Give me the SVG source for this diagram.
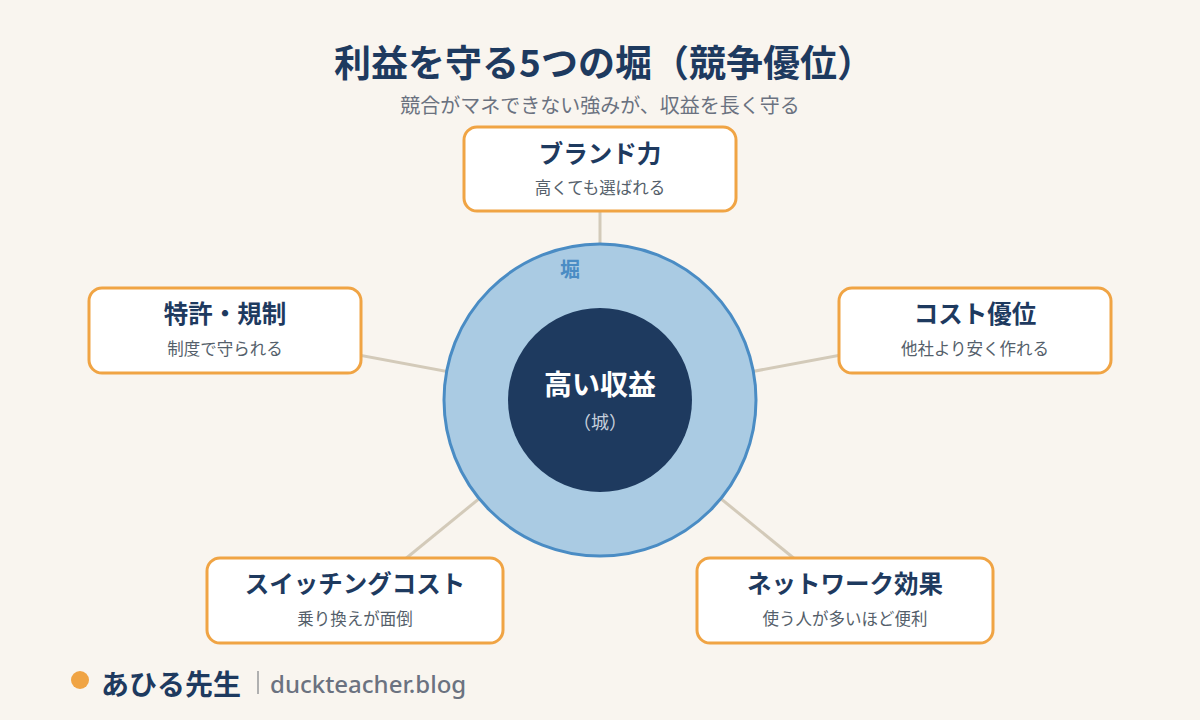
<svg xmlns="http://www.w3.org/2000/svg" width="1200" height="720" viewBox="0 0 1200 720">
<style>
.bg{fill:#f9f5ef}
.box{fill:#ffffff;stroke:#f0a444;stroke-width:3}
.t{font-family:"Noto Sans CJK JP","Noto Sans",sans-serif;text-anchor:middle}
.bt{font-size:24.5px;font-weight:700;fill:#1e3a5f}
.bs{font-size:16.5px;fill:#555f6b}
.conn{stroke:#d3cab9;stroke-width:3;fill:none}
</style>
<rect class="bg" x="0" y="0" width="1200" height="720"/>
<text class="t" x="604" y="77" font-size="37" font-weight="700" fill="#1e3a5f">利益を守る5つの堀（競争優位）</text>
<text class="t" x="600" y="113" font-size="20" fill="#6b7280">競合がマネできない強みが、収益を長く守る</text>
<g id="connectors">
<line class="conn" x1="600" y1="400" x2="600" y2="169"/>
<line class="conn" x1="600" y1="400" x2="225" y2="330"/>
<line class="conn" x1="600" y1="400" x2="975" y2="330"/>
<line class="conn" x1="600" y1="400" x2="355" y2="600"/>
<line class="conn" x1="600" y1="400" x2="845" y2="600"/>
</g>
<g id="moat">
<circle cx="600" cy="400" r="156" fill="#aacbe3" stroke="#4a8cc4" stroke-width="3"/>
<text class="t" x="570" y="277" font-size="20" font-weight="700" fill="#4a8cc4">堀</text>
</g>
<g id="castle">
<circle cx="600" cy="400" r="92" fill="#1e3a5f"/>
<text class="t" x="600" y="395" font-size="28" font-weight="700" fill="#ffffff">高い収益</text>
<text class="t" x="600" y="429" font-size="18" fill="#c5cedb">（城）</text>
</g>
<g id="brand">
<rect class="box" x="464" y="127" width="272" height="84" rx="13"/>
<text class="t bt" x="600" y="163">ブランド力</text>
<text class="t bs" x="600" y="194">高くても選ばれる</text>
</g>
<g id="patent">
<rect class="box" x="89" y="288" width="272" height="85" rx="13"/>
<text class="t bt" x="225" y="323">特許・規制</text>
<text class="t bs" x="225" y="355">制度で守られる</text>
</g>
<g id="cost">
<rect class="box" x="839" y="288" width="272" height="85" rx="13"/>
<text class="t bt" x="975" y="323">コスト優位</text>
<text class="t bs" x="975" y="355">他社より安く作れる</text>
</g>
<g id="switching">
<rect class="box" x="207" y="558" width="296" height="85" rx="13"/>
<text class="t bt" x="355" y="593">スイッチングコスト</text>
<text class="t bs" x="355" y="625">乗り換えが面倒</text>
</g>
<g id="network">
<rect class="box" x="697" y="558" width="296" height="85" rx="13"/>
<text class="t bt" x="845" y="593">ネットワーク効果</text>
<text class="t bs" x="845" y="625">使う人が多いほど便利</text>
</g>
<g id="footer">
<circle cx="80" cy="680" r="9" fill="#f0a444"/>
<text x="101" y="695" font-family="Noto Sans CJK JP,sans-serif" font-size="28" font-weight="700" fill="#1e3a5f">あひる先生</text>
<line x1="258" y1="671" x2="258" y2="694" stroke="#b0b0b0" stroke-width="2"/>
<text x="270" y="693" font-family="Noto Sans,sans-serif" font-size="24" font-weight="500" fill="#6b7280">duckteacher.blog</text>
</g>
</svg>
